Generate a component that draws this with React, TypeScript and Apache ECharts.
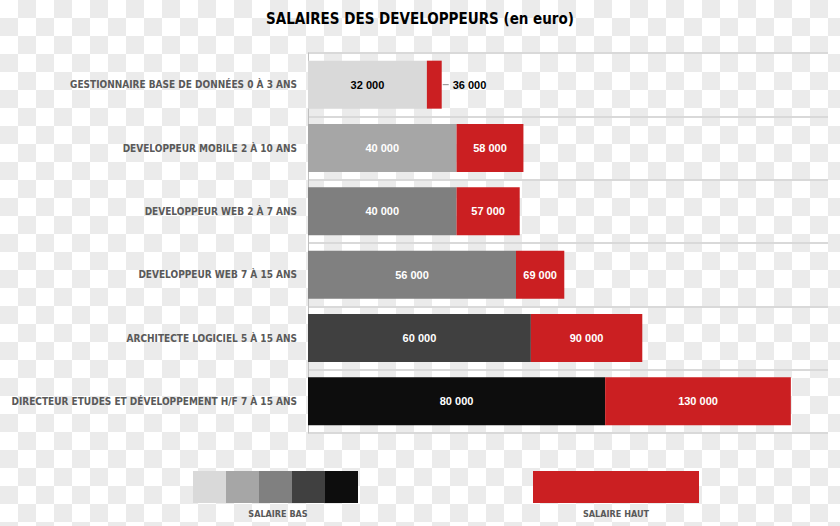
import React, { useEffect, useRef } from "react";
import * as echarts from "echarts";

const categories = [
  "GESTIONNAIRE BASE DE DONNÉES 0 À 3 ANS",
  "DEVELOPPEUR MOBILE 2 À 10 ANS",
  "DEVELOPPEUR WEB 2 À 7 ANS",
  "DEVELOPPEUR WEB 7 À 15 ANS",
  "ARCHITECTE LOGICIEL 5 À 15 ANS",
  "DIRECTEUR ETUDES ET DÉVELOPPEMENT H/F 7 À 15 ANS",
];
const salaireBas = [32000, 40000, 40000, 56000, 60000, 80000];
const salaireHaut = [36000, 58000, 57000, 69000, 90000, 130000];
const basColors = ["#d9d9d9", "#a6a6a6", "#7f7f7f", "#808080", "#404040", "#0d0d0d"];
const legendGrays = ["#d9d9d9", "#a6a6a6", "#808080", "#404040", "#0d0d0d"];
const RED = "#cb1f22";
const NARROW = "'DejaVu Sans Condensed', 'Liberation Sans Narrow', sans-serif";
const SANS = "'Liberation Sans', Arial, sans-serif";

const fmt = (v: number) => String(v).replace(/\B(?=(\d{3})+(?!\d))/g, " ");

export default function App() {
  const ref = useRef<HTMLDivElement>(null);
  useEffect(() => {
    document.body.style.margin = "0";
    const chart = echarts.init(ref.current!, null, { renderer: "svg" });
    const basData = salaireBas.map((v, i) => ({
      value: v,
      itemStyle: { color: basColors[i] },
      label: { color: i === 0 ? "#000" : "#fff" },
    }));
    const hautData = salaireHaut.map((v, i) => {
      const d: any = { value: v - salaireBas[i] };
      if (i === 0) {
        d.label = {
          position: "right",
          distance: 1,
          formatter: "{ln|}{v|" + fmt(v) + "}",
          rich: {
            ln: { width: 6, height: 1, backgroundColor: "#8c8c8c" },
            v: { color: "#000", fontWeight: "bold", fontSize: 11, fontFamily: SANS, padding: [0, 0, 0, 4] },
          },
        };
      }
      return d;
    });
    const legendGraphics: any[] = legendGrays.map((c, i) => ({
      type: "rect",
      shape: { x: 193 + i * 33, y: 471, width: 33, height: 32 },
      style: { fill: c },
    }));
    legendGraphics.push(
      {
        type: "rect",
        shape: { x: 533, y: 471, width: 166, height: 32 },
        style: { fill: RED },
      },
      {
        type: "text",
        x: 278,
        y: 514,
        style: {
          text: "SALAIRE BAS",
          fill: "#595959",
          font: "bold 9px " + NARROW,
          textAlign: "center",
          textVerticalAlign: "middle",
        },
      },
      {
        type: "text",
        x: 616,
        y: 514,
        style: {
          text: "SALAIRE HAUT",
          fill: "#595959",
          font: "bold 9px " + NARROW,
          textAlign: "center",
          textVerticalAlign: "middle",
        },
      }
    );
    chart.setOption({
      animation: false,
      title: {
        text: "SALAIRES DES DEVELOPPEURS (en euro)",
        left: 261,
        top: 6,
        textStyle: { fontSize: 15, fontWeight: "bold", color: "#000", fontFamily: NARROW },
      },
      grid: { left: 308, right: 12, top: 53, bottom: 93, containLabel: false, outerBoundsMode: "none" },
      xAxis: {
        type: "value",
        min: 0,
        max: 140000,
        show: false,
        splitLine: { show: false },
      },
      yAxis: {
        type: "category",
        data: categories,
        inverse: true,
        axisTick: { show: false },
        axisLine: { show: true, lineStyle: { color: "#bfbfbf", width: 1 } },
        splitLine: { show: true, lineStyle: { color: "#d9d9d9", width: 2 } },
        axisLabel: {
          margin: 11,
          color: "#595959",
          fontSize: 10,
          fontWeight: "bold",
          fontFamily: NARROW,
        },
      },
      series: [
        {
          type: "bar",
          stack: "s",
          barWidth: 48,
          data: basData,
          label: {
            show: true,
            position: "inside",
            fontSize: 11,
            fontWeight: "bold",
            fontFamily: SANS,
            formatter: (p: any) => fmt(salaireBas[p.dataIndex]),
          },
        },
        {
          type: "bar",
          stack: "s",
          barWidth: 48,
          itemStyle: { color: RED },
          data: hautData,
          label: {
            show: true,
            position: "inside",
            color: "#fff",
            fontSize: 11,
            fontWeight: "bold",
            fontFamily: SANS,
            formatter: (p: any) => fmt(salaireHaut[p.dataIndex]),
          },
        },
      ],
      graphic: legendGraphics,
    });
    return () => chart.dispose();
  }, []);
  return (
    <div
      ref={ref}
      style={{
        position: "fixed",
        left: 0,
        top: 0,
        width: 840,
        height: 526,
        backgroundColor: "#fff",
        backgroundImage:
          "conic-gradient(#ebebeb 25%, transparent 0 50%, #ebebeb 0 75%, transparent 0)",
        backgroundSize: "36px 36px",
      }}
    />
  );
}
